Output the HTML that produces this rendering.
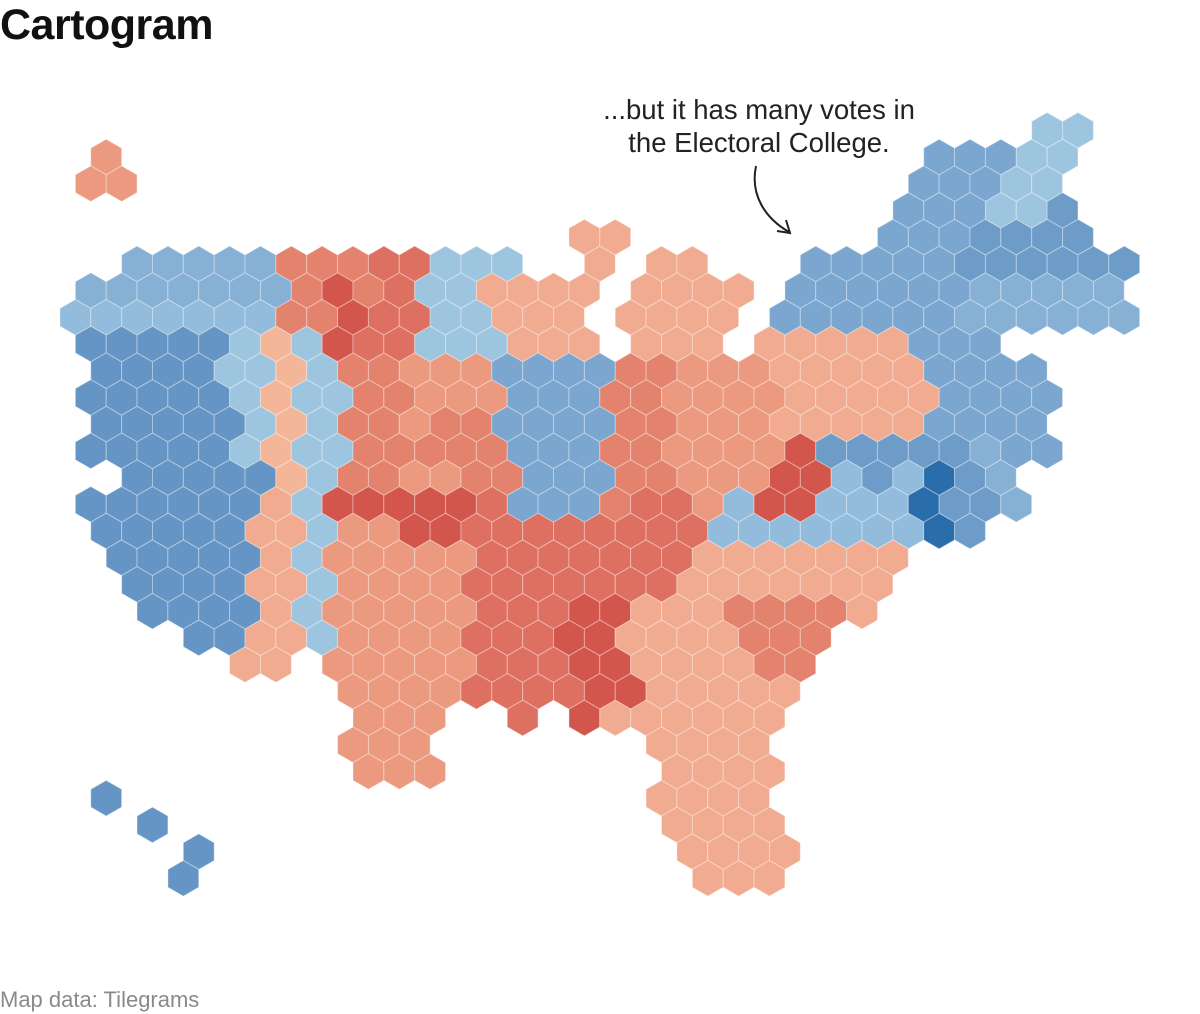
<!DOCTYPE html>
<html>
<head>
<meta charset="utf-8">
<style>
  html, body { margin: 0; padding: 0; background: #fff; }
  body { width: 1200px; height: 1014px; overflow: hidden; position: relative; font-family: "Liberation Sans", sans-serif; }
  #title { position: absolute; left: 0; top: 1px; font-size: 43px; font-weight: bold; color: #111; letter-spacing: -0.5px; }
  #footer { position: absolute; left: 0; top: 987px; font-size: 22px; color: #8a8a8a; }
  svg { position: absolute; left: 0; top: 0; }
</style>
</head>
<body>
<div id="title">Cartogram</div>
<svg id="map" width="1200" height="1014">
  <g id="hexes"></g>
  <g>
    <text x="759" y="119" text-anchor="middle" font-size="27.5" fill="#222" font-family="Liberation Sans, sans-serif">...but it has many votes in</text>
    <text x="759" y="152" text-anchor="middle" font-size="27.5" fill="#222" font-family="Liberation Sans, sans-serif">the Electoral College.</text>
    <path d="M756,166 C750,195 765,218 789,232" fill="none" stroke="#222" stroke-width="2"/>
    <path d="M777,231 L790,233 L786,220" fill="none" stroke="#222" stroke-width="2"/>
  </g>
</svg>
<div id="footer">Map data: Tilegrams</div>
<script>
// Each row: list of [startColumn, codes]; '.' = empty cell. First row is row -1.
const rowStart = -1;
const rows = [
  [[33, "ee"]],
  [[2, "t"], [29, "cccee"]],
  [[2, "tt"], [29, "cccee"]],
  [[28, "ccceeC"]],
  [[18, "uu"], [28, "cccCCCC"]],
  [[3, "dddddsssrreee..u.uu...cccccCCCCCC"]],
  [[2, "dddddddsRsreeuuuu.uuuu.ccccccddddd"]],
  [[1, "DDDDDDDssRrreeuuu.uuuu.ccccccdddddd"]],
  [[2, "bbbbbeveRrreeeuuu.uuu.uuuuuccc"]],
  [[2, "bbbbeeve" + "ss" + "ttt" + "cccc" + "ss" + "ttt" + "uuuuu" + "cccc"]],
  [[2, "bbbbb" + "eve" + "e" + "ss" + "ttt" + "ccc" + "ss" + "tttt" + "uuuuu" + "cccc"]],
  [[2, "bbbbb" + "eve" + "ss" + "t" + "ss" + "cccc" + "ss" + "ttt" + "uuuuu" + "cccc"]],
  [[2, "bbbbb" + "eve" + "e" + "sssss" + "ccc" + "ss" + "tttt" + "R" + "CCCCC" + "d" + "cc"]],
  [[3, "bbbbb" + "v" + "e" + "ss" + "tt" + "ss" + "ccc" + "ss" + "ttt" + "RR" + "DCDBCd"]],
  [[2, "bbbbbb" + "u" + "e" + "RRRRR" + "r" + "ccc" + "s" + "rr" + "t" + "D" + "RR" + "DDD" + "B" + "CC" + "d"]],
  [[2, "bbbbb" + "uu" + "e" + "tt" + "RR" + "rrrrrrrr" + "DDDDDDD" + "B" + "C"]],
  [[3, "bbbbb" + "u" + "e" + "ttttt" + "rrrrrrr" + "uuuuuuu"]],
  [[3, "bbbb" + "uu" + "e" + "tttt" + "rrrrrrr" + "uuuuuuu"]],
  [[4, "bbbb" + "u" + "e" + "ttttt" + "rrr" + "RR" + "uuu" + "ssss" + "u"]],
  [[5, "bb" + "uu" + "e" + "tttt" + "rrr" + "RR" + "uuuu" + "sss"]],
  [[7, "uu" + "." + "ttttt" + "rrr" + "RR" + "uuuu" + "ss"]],
  [[10, "tttt" + "rrrr" + "RR" + "uuuuu"]],
  [[11, "ttt" + ".." + "r" + "." + "R" + "uuuuuu"]],
  [[10, "ttt"], [20, "uuuu"]],
  [[11, "ttt"], [21, "uuuu"]],
  [[2, "b"], [20, "uuuu"]],
  [[4, "b"], [21, "uuuu"]],
  [[5, "b"], [21, "uuuu"]],
  [[5, "b"], [22, "uuu"]]
];
const palette = {
  e: "#9ec5df", D: "#93bbdb", d: "#87b0d5", c: "#7aa6cf", C: "#6e9cc8",
  b: "#6595c4", B: "#2a6dab",
  v: "#f4b699", u: "#f1ab90", t: "#eb9a80", s: "#e3836d", r: "#dd7061", R: "#d3564c"
};
const W = 30.85, H = W * Math.sqrt(3) / 2, RAD = W / Math.sqrt(3);
const x0 = 44.5, y0 = 157;
function xPos(k, r) { return x0 + W * k - ((r % 2 !== 0) ? W / 2 : 0); }
function yPos(r) { return y0 + H * r; }
const g = document.getElementById("hexes");
const NS = "http://www.w3.org/2000/svg";
rows.forEach(function (segs, i) {
  const r = i + rowStart;
  segs.forEach(function (seg) {
    const start = seg[0], str = seg[1];
    for (let j = 0; j < str.length; j++) {
      const ch = str[j];
      if (!palette[ch]) continue;
      const k = start + j;
      const cx = xPos(k, r), cy = yPos(r);
      const pts = [];
      for (let q = 0; q < 6; q++) {
        const a = Math.PI / 180 * (60 * q - 90);
        pts.push((cx + RAD * Math.cos(a)).toFixed(2) + "," + (cy + RAD * Math.sin(a)).toFixed(2));
      }
      const p = document.createElementNS(NS, "polygon");
      p.setAttribute("points", pts.join(" "));
      p.setAttribute("fill", palette[ch]);
      p.setAttribute("stroke", "rgba(255,255,255,0.35)");
      p.setAttribute("stroke-width", "1");
      
      
      g.appendChild(p);
    }
  });
});
</script>
</body>
</html>
